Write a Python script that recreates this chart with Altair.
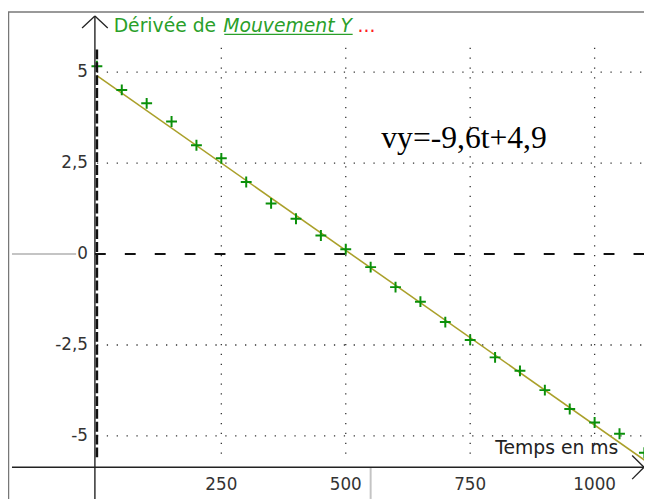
import altair as alt
import pandas as pd

# ---- data ----
times_ms = [0, 50, 100, 150, 200, 250, 300, 350, 400, 450, 500, 550,
            600, 650, 700, 750, 800, 850, 900, 950, 1000, 1050, 1100]
vy_vals = [5.16, 4.51, 4.14, 3.64, 2.99, 2.63, 1.98, 1.39, 0.97, 0.51, 0.13, -0.36,
           -0.91, -1.31, -1.87, -2.36, -2.84, -3.21, -3.74, -4.26, -4.63, -4.94, -5.46]
fit_t = [0, 1100]
fit_v = [4.9, -5.66]
x_ticks = [250, 500, 750, 1000]
x_tick_labels = ["250", "500", "750", "1000"]
y_ticks = [5, 2.5, 0, -2.5, -5]
y_tick_labels = ["5", "2,5", "0", "-2,5", "-5"]
y_grid = [5, 2.5, -2.5, -5]

# ---- scales (plot area mapped to whole chart) ----
X0, X1 = -178.6, 1099.2
Y0, Y1 = -6.730, 6.676
xs = alt.Scale(domain=[X0, X1], nice=False, zero=False)
ys = alt.Scale(domain=[Y0, Y1], nice=False, zero=False)

X_AXIS_V = -5.86
Y_AXIS_T = -4

def X(f="t"):
    return alt.X(f"{f}:Q", scale=xs, axis=None)

def Y(f="v"):
    return alt.Y(f"{f}:Q", scale=ys, axis=None)

def seg(rows, **style):
    df = pd.DataFrame(rows, columns=["t", "t2", "v", "v2"])
    return alt.Chart(df).mark_rule(**style).encode(
        x=X(), x2="t2:Q", y=Y(), y2="v2:Q")

# grids
vgrid = seg([[t, t, 5.67, -5.73] for t in x_ticks],
            color="#333333", strokeWidth=1.3, strokeDash=[1.3, 8.7])
hgrid = seg([[0, X1, v, v] for v in y_grid],
            color="#333333", strokeWidth=1.3, strokeDash=[1.3, 8.7])
zero_h = seg([[Y_AXIS_T, X1, 0, 0]], color="#111111", strokeWidth=2,
             strokeDash=[11, 19.3])
zero_v = seg([[0, 0, 5.62, -5.64]], color="#111111", strokeWidth=2.6,
             strokeDash=[10, 3])

# cursor lines (light gray)
cursor = seg([[-170.6, -41.7, 0, 0], [550, 550, X_AXIS_V, Y0]],
             color="#c4c4c4", strokeWidth=2)

# axes
axes = seg([[Y_AXIS_T, Y_AXIS_T, 6.54, Y0], [-170.6, X1, X_AXIS_V, X_AXIS_V]],
           color="#222222", strokeWidth=1.4)
arrows = seg([[-29.8, Y_AXIS_T, 6.21, 6.54], [Y_AXIS_T, 21.8, 6.54, 6.21],
              [1075.4, X1, -5.536, X_AXIS_V], [1075.4, X1, -6.187, X_AXIS_V]],
             color="#222222", strokeWidth=1.3)

# frame (gray)
frame = seg([[X0, X1, 6.65, 6.65], [X0 + 1.0, X0 + 1.0, 6.65, Y0]],
            color="#777777", strokeWidth=1.5)

# fit line
fit_df = pd.DataFrame({"t": fit_t, "v": fit_v})
fit = alt.Chart(fit_df).mark_line(color="#aaa02a", strokeWidth=1.6).encode(
    x=X(), y=Y())

# points (green crosses)
pts_df = pd.DataFrame({"t": times_ms, "v": vy_vals})
pts = alt.Chart(pts_df).mark_point(
    shape="M-1,0L1,0M0,-1L0,1", size=121, filled=False,
    stroke="#0a900a", strokeWidth=2, opacity=1).encode(x=X(), y=Y())

# tick labels
xl_df = pd.DataFrame({"t": x_ticks, "lab": x_tick_labels, "v": [-6.486] * 4})
xlabels = alt.Chart(xl_df).mark_text(
    font="DejaVu Sans", fontSize=17, color="#333333", align="center",
    baseline="alphabetic").encode(x=X(), y=Y(), text="lab:N")
yl_df = pd.DataFrame({"v": y_ticks, "lab": y_tick_labels})
ylabels = alt.Chart(yl_df).mark_text(
    font="DejaVu Sans", fontSize=17, color="#333333", align="right",
    baseline="middle", dx=-7).encode(x=alt.value(88), y=Y(), text="lab:N")

def label(txt, x, y, **kw):
    return alt.Chart(pd.DataFrame({"s": [txt]})).mark_text(**kw).encode(
        x=alt.value(x), y=alt.value(y), text="s:N")

title1 = label("Dérivée de", 107, 21.5, font="DejaVu Sans", fontSize=19,
               color="#2a9f2a", align="left", baseline="alphabetic")
title2 = label("Mouvement Y", 218, 21.5, font="DejaVu Sans", fontSize=19,
               fontStyle="italic", color="#2a9f2a", align="left",
               baseline="alphabetic")
title3 = label("...", 354, 21.5, font="DejaVu Sans", fontSize=19,
               color="#ff2020", align="left", baseline="alphabetic")
underline = alt.Chart(pd.DataFrame({"a": [0]})).mark_rule(
    color="#2a9f2a", strokeWidth=1.3).encode(
    x=alt.value(219), x2=alt.value(349), y=alt.value(23.5))
xtitle = label("Temps en ms", 618, 448.7, font="DejaVu Sans", fontSize=19,
               color="#222222", align="right", baseline="alphabetic")
eq = label("vy=-9,6t+4,9", 378, 138.7, font="Liberation Serif", fontSize=32,
           color="#000000", align="left", baseline="alphabetic")

chart = alt.layer(
    frame, vgrid, hgrid, zero_h, cursor, fit, pts, zero_v, axes, arrows,
    xlabels, ylabels, title1, title2, title3, underline, xtitle, eq
).properties(
    width=644, height=494, padding=0, background="white",
    autosize=alt.AutoSizeParams(type="none")
).configure_view(stroke=None)

chart.save("out.html", embed_options={"renderer": "svg", "actions": False})
